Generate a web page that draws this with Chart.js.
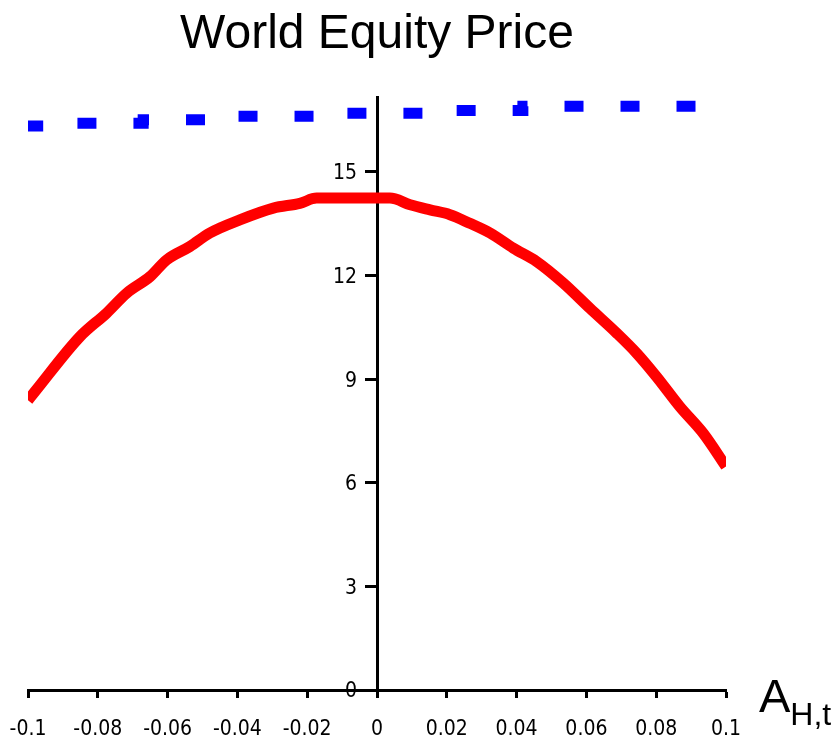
<!DOCTYPE html>
<html>
<head>
<meta charset="utf-8">
<title>World Equity Price</title>
<script src="https://cdn.jsdelivr.net/npm/chart.js@4.4.1/dist/chart.umd.min.js"></script>
<style>
  html, body { margin: 0; padding: 0; background: #fff; }
  canvas { display: block; }
</style>
</head>
<body>
<canvas id="chart" width="838" height="742"></canvas>
<script>
"use strict";

// chart values
const titleText = "World Equity Price";
const xTicks = [-0.1, -0.08, -0.06, -0.04, -0.02, 0, 0.02, 0.04, 0.06, 0.08, 0.1];
const yTicks = [0, 3, 6, 9, 12, 15];

const redX = [-0.1, -0.098, -0.0851, -0.0775, -0.0717, -0.065, -0.0603, -0.0536,
              -0.0479, -0.0393, -0.0297, -0.0221, -0.0173, 0, 0.0037, 0.0095,
              0.0152, 0.0209, 0.0266, 0.0324, 0.0391, 0.0458, 0.0534, 0.061,
              0.0687, 0.0744, 0.0801, 0.0868, 0.0935, 0.1];
const redY = [8.39, 8.64, 10.23, 10.91, 11.49, 11.97, 12.45, 12.84,
              13.23, 13.61, 13.95, 14.09, 14.24, 14.24, 14.24, 14.05,
              13.90, 13.76, 13.51, 13.23, 12.79, 12.40, 11.78, 11.05,
              10.33, 9.75, 9.07, 8.20, 7.43, 6.47];

const blueX = [-0.1, -0.0946, -0.067, -0.0421, -0.0135, 0.018, 0.0418, 0.0668, 0.1];
const blueY = [16.22, 16.33, 16.41, 16.51, 16.61, 16.70, 16.78, 16.90, 16.90];

const tickFamily = "'DejaVu Sans Condensed', 'Liberation Sans Narrow', sans-serif";
const tickFont = { family: tickFamily, size: 21, lineHeight: 2.19 };

function toPoints(xs, ys) {
  return xs.map((x, i) => ({ x: x, y: ys[i] }));
}

function fmt(v) {
  return String(Number(v.toFixed(2)));
}

// y labels sit left of the tick marks on the axis drawn at x = 0,
// and the x axis name "A" with subscript "H,t" goes right of the axis
const axisTextPlugin = {
  id: 'axisText',
  afterDraw(chart) {
    const ctx = chart.ctx;
    const area = chart.chartArea;
    const xScale = chart.scales.x;
    const yScale = chart.scales.y;
    const axisX = xScale.getPixelForValue(0);
    ctx.save();
    ctx.fillStyle = '#000';

    ctx.font = "21px " + tickFamily;
    ctx.textAlign = 'right';
    ctx.textBaseline = 'middle';
    for (const tick of yScale.ticks) {
      ctx.fillText(fmt(tick.value), axisX - 20, yScale.getPixelForValue(tick.value) + 2);
    }

    ctx.textAlign = 'left';
    ctx.textBaseline = 'alphabetic';
    ctx.font = "47px 'Liberation Sans', Arial, sans-serif";
    const x0 = area.right + 33;
    ctx.fillText("A", x0, area.bottom + 22);
    const w = ctx.measureText("A").width;
    ctx.font = "32px 'Liberation Sans', Arial, sans-serif";
    ctx.fillText("H,t", x0 + w, area.bottom + 35);
    ctx.restore();
  }
};

const config = {
  type: 'line',
  data: {
    datasets: [
      {
        label: 'red',
        data: toPoints(redX, redY),
        borderColor: '#ff0000',
        borderWidth: 11,
        pointRadius: 0,
        cubicInterpolationMode: 'monotone',
        fill: false
      },
      {
        label: 'blue',
        data: toPoints(blueX, blueY),
        borderColor: '#0000ff',
        borderWidth: 11,
        borderDash: [19, 37],
        borderCapStyle: 'butt',
        stepped: 'after',
        pointRadius: 0,
        fill: false
      }
    ]
  },
  options: {
    responsive: false,
    animation: false,
    layout: { padding: { left: 28, right: 112, top: 0, bottom: -20 } },
    plugins: {
      legend: { display: false },
      tooltip: { enabled: false },
      title: {
        display: true,
        text: titleText,
        fullSize: false,
        color: '#000',
        font: { family: "'Liberation Sans', Arial, sans-serif", size: 48, weight: 'normal' },
        padding: { top: 6, bottom: 34 }
      }
    },
    scales: {
      x: {
        type: 'linear',
        position: 'bottom',
        min: -0.1,
        max: 0.1,
        afterBuildTicks: axis => { axis.ticks = xTicks.map(v => ({ value: v })); },
        border: { display: true, color: '#000', width: 3 },
        grid: { drawOnChartArea: false, drawTicks: true, tickLength: 8, tickWidth: 3, tickColor: '#000' },
        ticks: { color: '#000', font: tickFont, padding: 9, maxRotation: 0, callback: v => fmt(v) }
      },
      y: {
        type: 'linear',
        position: { x: 0 },
        min: 0,
        max: 17.15,
        afterBuildTicks: axis => { axis.ticks = yTicks.map(v => ({ value: v })); },
        border: { display: true, color: '#000', width: 3 },
        grid: { drawOnChartArea: false, drawTicks: true, tickLength: 11, tickWidth: 3, tickColor: '#000' },
        ticks: { display: false }
      }
    }
  },
  plugins: [axisTextPlugin]
};

const chart = new Chart(document.getElementById('chart').getContext('2d'), config);
</script>
</body>
</html>
